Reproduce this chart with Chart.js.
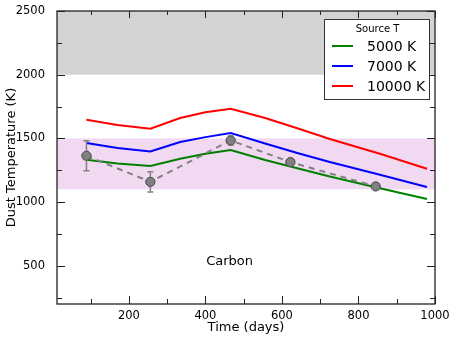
<!DOCTYPE html>
<html>
<head>
<meta charset="utf-8">
<script src="https://cdn.jsdelivr.net/npm/chart.js@4/dist/chart.umd.min.js"></script>
<style>
  html, body { margin: 0; padding: 0; background: #fff; }
  #wrap { width: 457px; height: 343px; position: relative; }
</style>
</head>
<body>
<div id="wrap"><canvas id="c" width="457" height="343"></canvas></div>
<script>
// ---- data ----
const modelDays = [89, 170, 256, 334, 400, 466, 556, 640, 725, 856, 979];
const temp5000  = [1332, 1302, 1283, 1340, 1380, 1408, 1330, 1265, 1201, 1108, 1024];
const temp7000  = [1463, 1425, 1397, 1471, 1510, 1542, 1460, 1385, 1314, 1214, 1118];
const temp10000 = [1646, 1605, 1576, 1660, 1705, 1733, 1660, 1580, 1495, 1380, 1262];
const seriesLabels = ['5000 K', '7000 K', '10000 K'];
const obsDays = [89, 256, 466, 622, 845];
const obsTemp = [1364, 1159, 1484, 1314, 1123];
const obsErr  = [118, 79, 35, 20, 20];
const xTickValues = [100, 200, 300, 400, 500, 600, 700, 800, 900, 1000];
const xTickLabels = ['', '200', '', '400', '', '600', '', '800', '', '1000'];
const yTickValues = [250, 500, 750, 1000, 1250, 1500, 1750, 2000, 2250, 2500];
const yTickLabels = ['', '500', '', '1000', '', '1500', '', '2000', '', '2500'];
const grayBand = [2000, 2500];
const pinkBand = [1100, 1500];
const annotationText = 'Carbon';
const annotationPos = [463, 536];
const legendTitle = 'Source T';

const FONT = '"DejaVu Sans", "Liberation Sans", sans-serif';
const toPts = (xs, ys) => xs.map((x, i) => ({ x: x, y: ys[i] }));

const bandsPlugin = {
  id: 'bands',
  beforeDatasetsDraw(chart) {
    const { ctx, chartArea: a, scales: { y } } = chart;
    ctx.save();
    ctx.fillStyle = '#d3d3d3';
    let t = y.getPixelForValue(grayBand[1]), b = y.getPixelForValue(grayBand[0]);
    ctx.fillRect(a.left, t, a.right - a.left, b - t);
    ctx.fillStyle = '#f1d9f1';
    t = y.getPixelForValue(pinkBand[1]); b = y.getPixelForValue(pinkBand[0]);
    ctx.fillRect(a.left, t, a.right - a.left, b - t);
    ctx.restore();
  }
};

const errPlugin = {
  id: 'errbars',
  afterDatasetsDraw(chart) {
    const { ctx, scales: { x, y } } = chart;
    ctx.save();
    ctx.strokeStyle = '#808080';
    ctx.lineWidth = 1.5;
    obsDays.forEach((d, i) => {
      const px = x.getPixelForValue(d);
      const t = y.getPixelForValue(obsTemp[i] + obsErr[i]);
      const b = y.getPixelForValue(obsTemp[i] - obsErr[i]);
      ctx.beginPath();
      ctx.moveTo(px, t); ctx.lineTo(px, b);
      ctx.moveTo(px - 3, t); ctx.lineTo(px + 3, t);
      ctx.moveTo(px - 3, b); ctx.lineTo(px + 3, b);
      ctx.stroke();
    });
    const meta = chart.getDatasetMeta(3);
    meta.data.forEach(el => el.draw(ctx));
    ctx.restore();
  }
};

const framePlugin = {
  id: 'frame',
  afterDraw(chart) {
    const { ctx, chartArea: a, scales: { x, y } } = chart;
    ctx.save();
    ctx.strokeStyle = '#222';
    ctx.lineWidth = 1;
    xTickValues.forEach((v, i) => {
      const px = Math.round(x.getPixelForValue(v)) + 0.5;
      const len = xTickLabels[i] ? 8 : 5;
      const lenTop = xTickLabels[i] ? 7 : 4;
      ctx.beginPath();
      ctx.moveTo(px, a.bottom); ctx.lineTo(px, a.bottom - len);
      ctx.moveTo(px, a.top); ctx.lineTo(px, a.top + lenTop);
      ctx.stroke();
    });
    yTickValues.forEach((v, i) => {
      const py = Math.round(y.getPixelForValue(v)) + 0.5;
      const len = yTickLabels[i] ? 8 : 5;
      ctx.beginPath();
      ctx.moveTo(a.left, py); ctx.lineTo(a.left + len, py);
      ctx.moveTo(a.right, py); ctx.lineTo(a.right - len, py);
      ctx.stroke();
    });
    ctx.lineWidth = 1.3;
    ctx.strokeRect(a.left, a.top, a.right - a.left, a.bottom - a.top);
    ctx.fillStyle = '#000';
    ctx.font = '13px ' + FONT;
    ctx.textAlign = 'center';
    ctx.textBaseline = 'middle';
    ctx.fillText(annotationText, x.getPixelForValue(annotationPos[0]), y.getPixelForValue(annotationPos[1]));
    const lx = 324, ly = 19, lw = 105, lh = 80;
    ctx.fillStyle = '#fff';
    ctx.fillRect(lx, ly, lw, lh);
    ctx.strokeStyle = '#333';
    ctx.lineWidth = 1;
    ctx.strokeRect(lx + 0.5, ly + 0.5, lw, lh);
    ctx.fillStyle = '#000';
    ctx.font = '10px ' + FONT;
    ctx.fillText(legendTitle, lx + lw / 2 + 1, ly + 10);
    ctx.textAlign = 'left';
    ctx.font = '14px ' + FONT;
    for (let i = 0; i < 3; i++) {
      const ds = chart.data.datasets[i];
      const ry = ly + 27 + i * 20;
      ctx.strokeStyle = ds.borderColor;
      ctx.lineWidth = 2;
      ctx.beginPath();
      ctx.moveTo(lx + 8, ry); ctx.lineTo(lx + 29, ry);
      ctx.stroke();
      ctx.fillStyle = '#000';
      ctx.fillText(ds.label, lx + 43, ry + 1);
    }
    ctx.restore();
  }
};

const lineDs = (label, ys, color) => ({
  label: label, data: toPts(modelDays, ys), showLine: true,
  borderColor: color, backgroundColor: color, borderWidth: 2,
  pointRadius: 0, tension: 0, order: 2
});

new Chart(document.getElementById('c'), {
  type: 'scatter',
  data: {
    datasets: [
      lineDs(seriesLabels[0], temp5000, '#008000'),
      lineDs(seriesLabels[1], temp7000, '#0000ff'),
      lineDs(seriesLabels[2], temp10000, '#ff0000'),
      {
        label: 'obs', data: toPts(obsDays, obsTemp), showLine: true,
        borderColor: '#808080', borderWidth: 2, borderDash: [6, 5],
        pointRadius: 4.5, pointBackgroundColor: '#808080', pointBorderColor: '#555',
        pointBorderWidth: 1, tension: 0, order: 1
      }
    ]
  },
  options: {
    responsive: false,
    animation: false,
    devicePixelRatio: 1,
    layout: { padding: { left: 0, right: 22, top: 11, bottom: 0 } },
    plugins: { legend: { display: false }, tooltip: { enabled: false } },
    scales: {
      x: {
        type: 'linear', min: 12, max: 1000,
        afterFit(s) { s.height = 39; },
        afterBuildTicks(s) { s.ticks = xTickValues.map(v => ({ value: v })); },
        grid: { display: false }, border: { display: false },
        ticks: {
          autoSkip: false, maxRotation: 0, padding: -3, color: '#000',
          font: { family: FONT, size: 11.5 },
          callback: (v) => { const i = xTickValues.indexOf(v); return i >= 0 ? xTickLabels[i] : ''; }
        },
        title: { display: true, text: 'Time (days)', color: '#000', font: { family: FONT, size: 13 }, padding: { top: 0, bottom: 8 } }
      },
      y: {
        type: 'linear', min: 200, max: 2500,
        afterFit(s) { s.width = 57; },
        afterBuildTicks(s) { s.ticks = yTickValues.map(v => ({ value: v })); },
        grid: { display: false }, border: { display: false },
        ticks: {
          autoSkip: false, padding: 4, color: '#000',
          font: { family: FONT, size: 11.5 },
          callback: (v) => { const i = yTickValues.indexOf(v); return i >= 0 ? yTickLabels[i] : ''; }
        },
        title: { display: true, text: 'Dust Temperature (K)', color: '#000', font: { family: FONT, size: 13 }, padding: { top: 4, bottom: 0 } }
      }
    }
  },
  plugins: [bandsPlugin, errPlugin, framePlugin]
});
</script>
</body>
</html>
